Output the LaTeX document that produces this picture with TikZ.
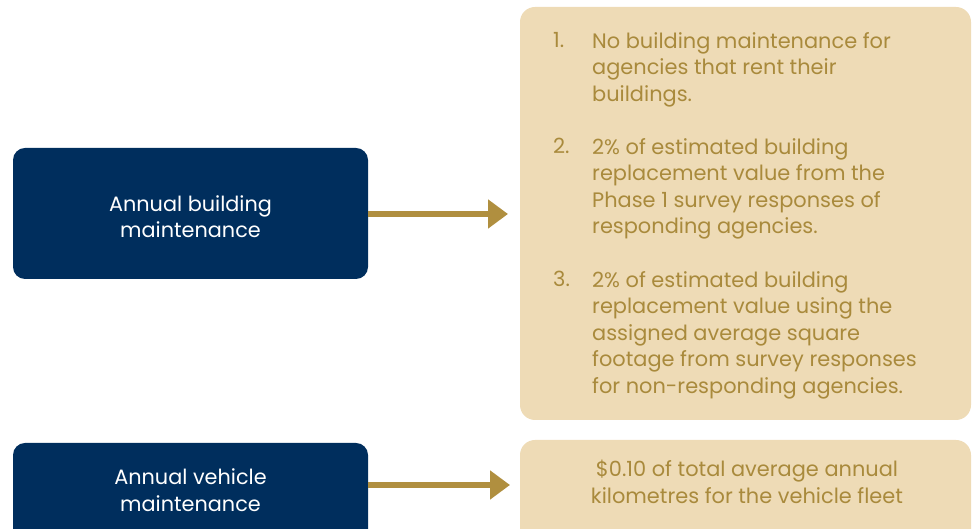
\documentclass[tikz,border=0pt]{standalone}
\usepackage{fontspec}
\setmainfont{Poppins}
\usetikzlibrary{arrows.meta,calc}
\definecolor{navy}{HTML}{002E5D}
\definecolor{beige}{HTML}{EEDBB6}
\definecolor{goldarrow}{HTML}{B08F3F}
\definecolor{goldtext}{HTML}{A98A3C}
\tikzset{
  navybox/.style={fill=navy, rounded corners=12pt, inner sep=0pt},
  beigebox/.style={fill=beige, rounded corners=15pt, inner sep=0pt},
  whitetxt/.style={text=white, align=center, inner sep=0pt, font=\fontsize{20.8}{26.5}\selectfont},
  goldtxt/.style={text=goldtext, align=left, inner sep=0pt, font=\fontsize{20.9}{26.5}\selectfont},
  arr/.style={draw=goldarrow, line width=6.5pt, -{Triangle[length=20pt,width=28pt]}},
}
\begin{document}
\begin{tikzpicture}[x=1pt,y=1pt]
\useasboundingbox (0,0) rectangle (972,529);
\clip (0,0) rectangle (972,529);
% boxes
\path[navybox] (13,250) rectangle (368,381);
\path[beigebox] (520,109) rectangle (971,522);
\path[navybox] (13,-30) rectangle (368,86);
\path[beigebox] (520,-30) rectangle (971,89);
\coordinate (boxAe) at (368,315);
\coordinate (boxBw) at (520,315);
\coordinate (boxCe) at (368,44);
\coordinate (boxDw) at (520,44);
% texts
\node[whitetxt] (tA) at (190.5,312.5) {Annual building\\maintenance};
\node[whitetxt] (tC) at (190.5,39) {Annual vehicle\\maintenance};
\node[goldtxt, align=center] (tD) at (747,47) {\$0.10 of total average annual\\kilometres for the vehicle fleet};
% list
\node[goldtxt, anchor=north west] (n1) at (553,497) {1.};
\node[goldtxt, anchor=north west] (i1) at (592,497) {No building maintenance for\\agencies that rent their\\buildings.};
\node[goldtxt, anchor=north west] (n2) at (553,391) {2.};
\node[goldtxt, anchor=north west] (i2) at (592,391) {2\% of estimated building\\replacement value from the\\Phase 1 survey responses of\\responding agencies.};
\node[goldtxt, anchor=north west] (n3) at (553,258) {3.};
\node[goldtxt, anchor=north west] (i3) at (592,258) {2\% of estimated building\\replacement value using the\\assigned average square\\footage from survey responses\\for non-responding agencies.};
% arrows
\draw[arr, shorten >=12pt] (boxAe) -- (boxBw);
\draw[arr, shorten >=10pt] (boxCe) -- (boxDw);
\end{tikzpicture}
\end{document}
